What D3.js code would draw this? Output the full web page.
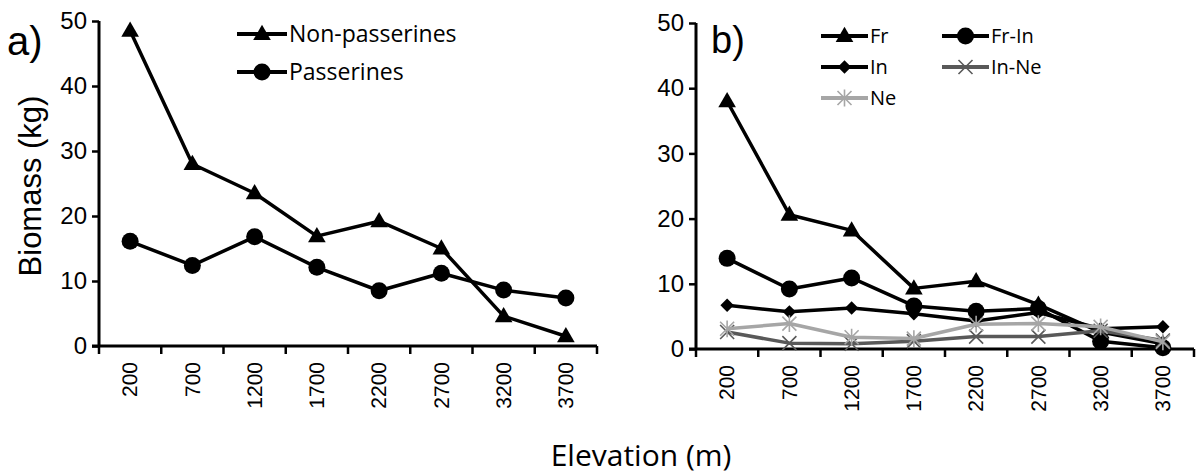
<!DOCTYPE html>
<html><head><meta charset="utf-8">
<script src="https://cdn.jsdelivr.net/npm/d3@7/dist/d3.min.js"></script>
<style>body{margin:0;background:#fff}svg{display:block}
.xt text{font-family:"Liberation Sans",Arial,sans-serif;font-size:21px;text-rendering:geometricPrecision}
</style>
</head><body>
<svg id="c" width="1199" height="474"></svg>
<script>
const elevations = ["200","700","1200","1700","2200","2700","3200","3700"];
const yTicks = [0,10,20,30,40,50];
const nonPasserines = [48.5,28.0,23.5,16.9,19.2,15.0,4.6,1.5];
const passerines = [16.1,12.4,16.8,12.1,8.5,11.2,8.6,7.4];
const fr = [38.0,20.6,18.2,9.3,10.4,6.8,2.6,0.8];
const frIn = [13.9,9.2,10.9,6.6,5.8,6.2,1.2,0.2];
const inSeries = [6.7,5.7,6.3,5.4,4.3,5.6,3.1,3.4];
const inNe = [2.6,0.9,0.8,1.2,1.9,1.9,2.8,1.3];
const ne = [3.1,3.9,1.8,1.6,3.8,3.9,3.4,1.1];

const svg = d3.select("#c");
const AX = "'Liberation Sans', Arial, sans-serif";
const LEG = "'Open Sans', sans-serif";

function panel(opts){
  const g = svg.append("g");
  const x = d3.scaleBand().domain(elevations).range([opts.x0, opts.x1]);
  const y = d3.scaleLinear().domain([0,50]).range([opts.y0, opts.y1]);
  const ya = g.append("g").attr("transform",`translate(${opts.x0},0)`)
    .call(d3.axisLeft(y).tickValues(yTicks).tickSize(7).tickPadding(5));
  ya.attr("font-family",AX).attr("font-size",24);
  ya.select(".domain").attr("stroke","#000").attr("stroke-width",3).attr("d",`M0,${opts.y1}V${opts.y0}`);
  ya.selectAll(".tick line").attr("stroke","#000").attr("stroke-width",2.5);
  ya.selectAll(".tick text").attr("fill","#000");
  const xa = g.append("g").attr("class","xt").attr("transform",`translate(0,${opts.y0})`)
    .call(d3.axisBottom(x).tickSize(0).tickPadding(0));
  xa.attr("font-family",AX).attr("font-size",21);
  xa.select(".domain").attr("stroke","#000").attr("stroke-width",3).attr("d",`M${opts.x0-7},0H${opts.x1}`);
  xa.selectAll(".tick text").attr("fill","#000")
    .attr("transform","rotate(-90)").attr("text-anchor","end").attr("dx","-16").attr("dy","0.35em").attr("y",0);
  const edges = elevations.map(d=>x(d)).concat([x.range()[1]]);
  g.append("g").selectAll("line").data(edges).join("line")
    .attr("x1",d=>d).attr("x2",d=>d).attr("y1",opts.y0).attr("y2",opts.y0+8)
    .attr("stroke","#000").attr("stroke-width",2.5);
  opts.series.forEach(s=>{
    const line = d3.line().x((d,i)=>x(elevations[i])+x.bandwidth()/2).y(d=>y(d));
    g.append("path").datum(s.values).attr("d",line).attr("fill","none")
      .attr("stroke",s.color).attr("stroke-width",3.5).attr("stroke-linejoin","round");
    s.values.forEach((v,i)=>{
      drawMarker(g, s, x(elevations[i])+x.bandwidth()/2, y(v));
    });
  });
  return {g,x,y};
}

function drawMarker(g, s, cx, cy){
  if(s.marker==="triangle"){
    g.append("path").attr("d",d3.symbol(d3.symbolTriangle, 135)()).attr("transform",`translate(${cx},${cy+1})`).attr("fill",s.color);
  } else if(s.marker==="circle"){
    g.append("circle").attr("cx",cx).attr("cy",cy).attr("r",8.5).attr("fill",s.color);
  } else if(s.marker==="diamond"){
    g.append("path").attr("d",d3.symbol(d3.symbolSquare, 90)()).attr("transform",`translate(${cx},${cy}) rotate(45)`).attr("fill",s.color);
  } else if(s.marker==="x"){
    const r=7;
    g.append("path").attr("d",`M${cx-r},${cy-r}L${cx+r},${cy+r}M${cx-r},${cy+r}L${cx+r},${cy-r}`)
      .attr("stroke",s.color).attr("stroke-width",1.6).attr("fill","none");
  } else if(s.marker==="star"){
    const r=7;
    g.append("path").attr("d",`M${cx-r},${cy-r}L${cx+r},${cy+r}M${cx-r},${cy+r}L${cx+r},${cy-r}M${cx},${cy-r*1.2}L${cx},${cy+r*1.2}`)
      .attr("stroke",s.color).attr("stroke-width",1.6).attr("fill","none");
  }
}

function legendItem(g, s, x0, x1, yy, fs){
  g.append("line").attr("x1",x0).attr("x2",x1).attr("y1",yy).attr("y2",yy)
    .attr("stroke",s.color).attr("stroke-width",4);
  drawMarker(g, s, (x0+x1)/2, yy);
  g.append("text").attr("x",x1+2).attr("y",yy).attr("dy","0.36em")
    .attr("font-family",LEG).attr("font-size",fs).attr("fill","#000").text(s.name);
}

const seriesA = [
  {name:"Non-passerines", values:nonPasserines, color:"#000", marker:"triangle"},
  {name:"Passerines", values:passerines, color:"#000", marker:"circle"}
];
const seriesB = [
  {name:"Fr", values:fr, color:"#000", marker:"triangle"},
  {name:"Fr-In", values:frIn, color:"#000", marker:"circle"},
  {name:"In", values:inSeries, color:"#000", marker:"diamond"},
  {name:"In-Ne", values:inNe, color:"#595959", marker:"x"},
  {name:"Ne", values:ne, color:"#a6a6a6", marker:"star"}
];

panel({x0:99, x1:597, y0:346, y1:21, series:seriesA});
panel({x0:696, x1:1194, y0:349, y1:23, series:seriesB});

legendItem(svg, seriesA[0], 237, 287, 34, 23);
legendItem(svg, seriesA[1], 237, 287, 72, 23);
legendItem(svg, seriesB[0], 821, 868, 36, 20);
legendItem(svg, seriesB[1], 942, 989, 36, 20);
legendItem(svg, seriesB[2], 821, 868, 67, 20);
legendItem(svg, seriesB[3], 942, 989, 67, 20);
legendItem(svg, seriesB[4], 821, 868, 98, 20);

svg.append("text").attr("x",7).attr("y",55).attr("font-family",AX).attr("font-size",40).text("a)");
svg.append("text").attr("x",711).attr("y",53).attr("font-family",AX).attr("font-size",38).text("b)");
svg.append("text").attr("transform","translate(41,186) rotate(-90)").attr("text-anchor","middle")
  .attr("font-family",AX).attr("font-size",31).text("Biomass (kg)");
svg.append("text").attr("x",641).attr("y",466).attr("text-anchor","middle")
  .attr("font-family",LEG).attr("font-size",30).text("Elevation (m)");
</script>
</body></html>
